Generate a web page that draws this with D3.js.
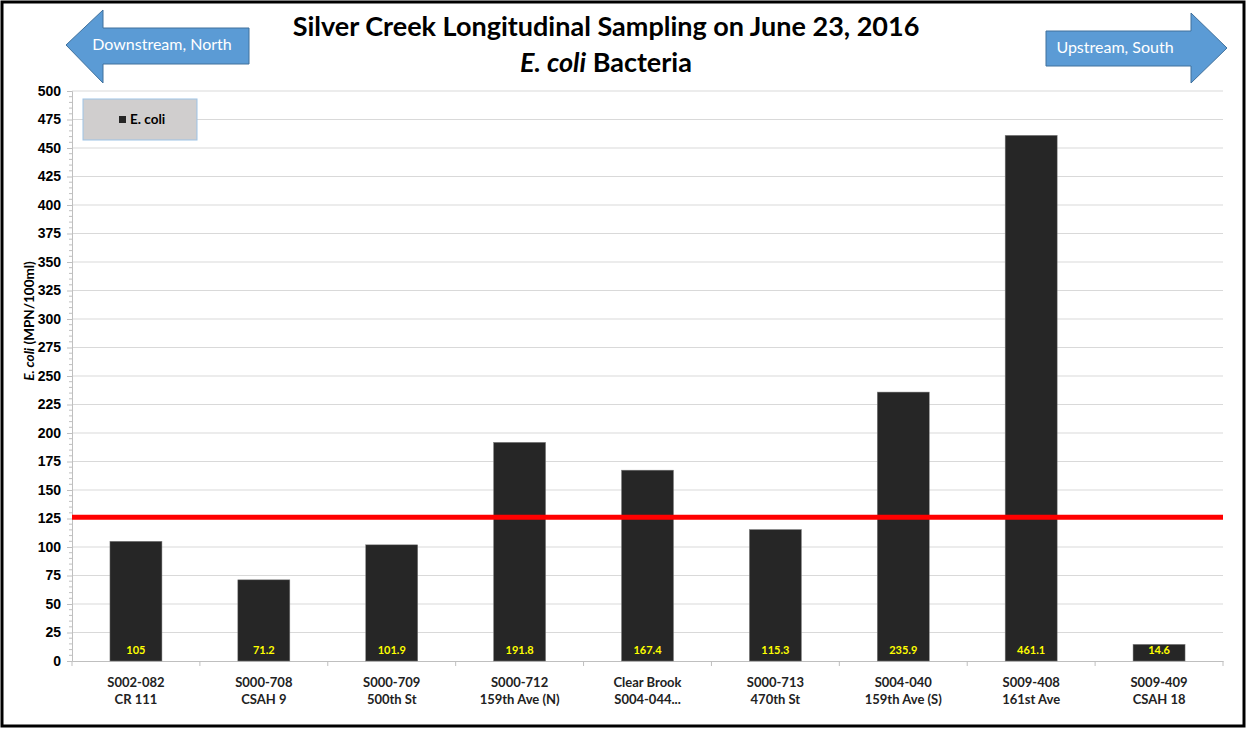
<!DOCTYPE html>
<html>
<head>
<meta charset="utf-8">
<script src="https://cdn.jsdelivr.net/npm/d3@7"></script>
<style>
  body { margin: 0; background: #fff; }
  svg { display: block; font-family: Lato, "Open Sans", sans-serif; }
</style>
</head>
<body>
<svg width="1247" height="729"></svg>
<script>
// site codes and place names (two label lines under each bar)
const sites = ['S002-082', 'S000-708', 'S000-709', 'S000-712', 'Clear Brook', 'S000-713', 'S004-040', 'S009-408', 'S009-409'];
const places = ['CR 111', 'CSAH 9', '500th St', '159th Ave (N)', 'S004-044...', '470th St', '159th Ave (S)', '161st Ave', 'CSAH 18'];
const ecoli = [105, 71.2, 101.9, 191.8, 167.4, 115.3, 235.9, 461.1, 14.6];
const yTicks = d3.range(0, 501, 25);
const standard = 126;

const svg = d3.select('svg');

// outer frame
svg.append('rect')
    .attr('x', 2).attr('y', 2).attr('width', 1242).attr('height', 724)
    .attr('fill', 'none').attr('stroke', '#000').attr('stroke-width', 3);

const plotLeft = 72, plotRight = 1223, plotTop = 91, plotBottom = 661;

const x = d3.scaleBand()
    .domain(sites)
    .range([plotLeft, plotRight]);

const y = d3.scaleLinear()
    .domain([0, 500])
    .range([plotBottom, plotTop]);

// gridlines
svg.append('g')
    .selectAll('line')
    .data(yTicks.slice(1))
    .enter()
    .append('line')
    .attr('x1', plotLeft).attr('x2', plotRight)
    .attr('y1', d => y(d)).attr('y2', d => y(d))
    .attr('stroke', '#d9d9d9').attr('stroke-width', 1);

// y axis, major + minor ticks
const yAxis = svg.append('g')
    .attr('transform', `translate(${plotLeft},0)`)
    .call(d3.axisLeft(y).tickValues(yTicks).tickSize(5).tickPadding(6));
yAxis.select('.domain').attr('stroke', '#bfbfbf');
yAxis.selectAll('.tick line').attr('stroke', '#bfbfbf');
yAxis.selectAll('.tick text')
    .attr('font-size', 14).attr('font-weight', 'bold').attr('fill', '#000');

svg.append('g')
    .selectAll('line')
    .data(d3.range(0, 501, 5).filter(v => v % 25 !== 0))
    .enter()
    .append('line')
    .attr('x1', plotLeft - 3).attr('x2', plotLeft)
    .attr('y1', d => y(d)).attr('y2', d => y(d))
    .attr('stroke', '#bfbfbf');

// x axis
const xAxis = svg.append('g')
    .attr('transform', `translate(0,${plotBottom})`)
    .call(d3.axisBottom(x).tickSize(0).tickFormat(''));
xAxis.select('.domain').attr('stroke', '#bfbfbf');

svg.append('g')
    .selectAll('line')
    .data(d3.range(sites.length + 1))
    .enter()
    .append('line')
    .attr('x1', i => plotLeft + i * x.step()).attr('x2', i => plotLeft + i * x.step())
    .attr('y1', plotBottom).attr('y2', plotBottom + 5)
    .attr('stroke', '#bfbfbf');

const labels = svg.append('g')
    .selectAll('text')
    .data(sites)
    .enter()
    .append('text')
    .attr('x', d => x(d) + x.bandwidth() / 2)
    .attr('text-anchor', 'middle')
    .attr('font-size', 13).attr('font-weight', 'bold').attr('fill', '#222');
labels.append('tspan').attr('y', 687).attr('x', d => x(d) + x.bandwidth() / 2).text(d => d);
labels.append('tspan').attr('y', 704).attr('x', d => x(d) + x.bandwidth() / 2).text((d, i) => places[i]);

// bars
const barW = 52;
svg.append('g')
    .selectAll('rect')
    .data(ecoli)
    .enter()
    .append('rect')
    .attr('x', (d, i) => x(sites[i]) + x.bandwidth() / 2 - barW / 2)
    .attr('y', d => y(d))
    .attr('width', barW)
    .attr('height', d => plotBottom - y(d))
    .attr('fill', '#262626')
    .attr('stroke', '#7f7f7f').attr('stroke-width', 0.5);

svg.append('g')
    .selectAll('text')
    .data(ecoli)
    .enter()
    .append('text')
    .attr('x', (d, i) => x(sites[i]) + x.bandwidth() / 2)
    .attr('y', plotBottom - 7)
    .attr('text-anchor', 'middle')
    .attr('font-size', 11).attr('font-weight', 'bold')
    .attr('fill', '#ffff00')
    .text(d => d);

// standard line
svg.append('line')
    .attr('x1', plotLeft).attr('x2', plotRight)
    .attr('y1', y(standard)).attr('y2', y(standard))
    .attr('stroke', '#ff0000').attr('stroke-width', 5);

// y axis title
const yt = svg.append('text')
    .attr('transform', 'translate(34,321) rotate(-90)')
    .attr('text-anchor', 'middle')
    .attr('font-size', 13.5).attr('font-weight', 'bold');
yt.append('tspan').attr('font-style', 'italic').text('E. coli');
yt.append('tspan').text(' (MPN/100ml)');

// title
svg.append('text')
    .attr('x', 606).attr('y', 36)
    .attr('text-anchor', 'middle')
    .attr('font-size', 27).attr('font-weight', 'bold')
    .text('Silver Creek Longitudinal Sampling on June 23, 2016');
const t2 = svg.append('text')
    .attr('x', 606).attr('y', 72)
    .attr('text-anchor', 'middle')
    .attr('font-size', 27).attr('font-weight', 'bold');
t2.append('tspan').attr('font-style', 'italic').text('E. coli');
t2.append('tspan').text(' Bacteria');

// legend
svg.append('rect')
    .attr('x', 83).attr('y', 99).attr('width', 114).attr('height', 41)
    .attr('fill', '#d0cece').attr('stroke', '#9dc3e6');
svg.append('rect')
    .attr('x', 119).attr('y', 116).attr('width', 7).attr('height', 7)
    .attr('fill', '#262626');
svg.append('text')
    .attr('x', 130).attr('y', 124)
    .attr('font-size', 13.5).attr('font-weight', 'bold')
    .text('E. coli');

// direction arrows
const arrow = d3.line();
svg.append('path')
    .attr('d', arrow([[66, 45], [103, 10], [103, 28], [249, 28], [249, 64], [103, 64], [103, 83]]) + 'Z')
    .attr('fill', '#5b9bd5').attr('stroke', '#41719c');
svg.append('text')
    .attr('x', 162).attr('y', 50)
    .attr('text-anchor', 'middle')
    .attr('font-size', 16).attr('fill', '#fff')
    .text('Downstream, North');

svg.append('path')
    .attr('d', arrow([[1227, 48], [1191, 13], [1191, 31], [1046, 31], [1046, 66], [1191, 66], [1191, 83]]) + 'Z')
    .attr('fill', '#5b9bd5').attr('stroke', '#41719c');
svg.append('text')
    .attr('x', 1115).attr('y', 53)
    .attr('text-anchor', 'middle')
    .attr('font-size', 16).attr('fill', '#fff')
    .text('Upstream, South');
</script>
</body>
</html>
